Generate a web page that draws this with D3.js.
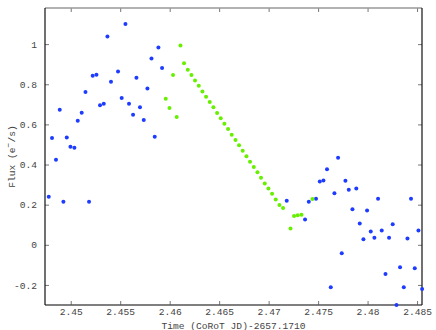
<!DOCTYPE html>
<html lang="en">
<head>
    <meta charset="UTF-8">
    <title>CoRoT light curve</title>
    <script src="https://d3js.org/d3.v7.min.js"></script>
    <style>
        body { margin: 0; background: #fff; }
        .tick text {
            font-family: "Liberation Mono", "DejaVu Sans Mono", monospace;
            font-size: 9.6px;
            fill: #444;
        }
        .tick line { stroke: #777; }
        .label {
            font-family: "Liberation Mono", "DejaVu Sans Mono", monospace;
            font-size: 9.6px;
            fill: #444;
        }
    </style>
</head>
<body>
    <svg id="chart"></svg>

    <script>
        // out-of-transit points (blue)
        const blueTime = [2.44778, 2.44811, 2.44851, 2.44889, 2.44926, 2.44960, 2.44997, 2.45037, 2.45071, 2.45111,
            2.45149, 2.45185, 2.45222, 2.45260, 2.45296, 2.45334, 2.45371, 2.45407, 2.45478, 2.45515,
            2.45553, 2.45589, 2.45630, 2.45664, 2.45700, 2.45738, 2.45775, 2.45816, 2.45849, 2.45886,
            2.45923, 2.47183, 2.47368, 2.47406, 2.47479, 2.47517, 2.47554, 2.47590, 2.47628, 2.47665,
            2.47702, 2.47739, 2.47776, 2.47810, 2.47847, 2.47886, 2.47921, 2.47958, 2.47995, 2.48032,
            2.48069, 2.48106, 2.48143, 2.48181, 2.48217, 2.48254, 2.48292, 2.48328, 2.48366, 2.48403,
            2.48439, 2.48477, 2.48514, 2.48551];
        const blueFlux = [0.239, 0.532, 0.424, 0.673, 0.214, 0.535, 0.488, 0.484, 0.618, 0.658,
            0.761, 0.215, 0.842, 0.847, 0.695, 0.703, 1.038, 0.812, 0.864, 0.731,
            1.100, 0.703, 0.648, 0.832, 0.685, 0.622, 0.779, 0.928, 0.539, 0.983,
            0.881, 0.219, 0.126, 0.214, 0.230, 0.315, 0.320, 0.376, -0.211, 0.257,
            0.434, -0.042, 0.319, 0.274, 0.177, 0.281, 0.106, 0.028, 0.171, 0.066,
            0.035, 0.230, 0.071, -0.146, 0.035, 0.102, -0.300, -0.112, -0.211, 0.032,
            0.230, -0.117, 0.071, -0.220];

        // flagged points (green)
        const greenTime = [2.45960, 2.45998, 2.46034, 2.46071, 2.46109, 2.46145, 2.46183, 2.46220, 2.46256, 2.46294,
            2.46331, 2.46368, 2.46405, 2.46442, 2.46479, 2.46516, 2.46553, 2.46590, 2.46627, 2.46665,
            2.46701, 2.46738, 2.46776, 2.46812, 2.46850, 2.46887, 2.46923, 2.46961, 2.46998, 2.47035,
            2.47072, 2.47109, 2.47146, 2.47221, 2.47257, 2.47294, 2.47332, 2.47443];
        const greenFlux = [0.728, 0.682, 0.846, 0.637, 0.993, 0.905, 0.872, 0.846, 0.819, 0.792,
            0.764, 0.738, 0.711, 0.685, 0.657, 0.631, 0.603, 0.577, 0.549, 0.522,
            0.496, 0.469, 0.441, 0.414, 0.388, 0.361, 0.334, 0.306, 0.280, 0.254,
            0.226, 0.198, 0.183, 0.081, 0.144, 0.147, 0.150, 0.228];

        const xTicks = [2.45, 2.455, 2.46, 2.465, 2.47, 2.475, 2.48, 2.485];
        const yTicks = [-0.2, 0, 0.2, 0.4, 0.6, 0.8, 1];

        const W = 436, H = 330;
        const margin = { top: 8, right: 14, bottom: 25, left: 45 };
        const width = W - margin.left - margin.right;
        const height = H - margin.top - margin.bottom;

        const svg = d3.select("#chart")
            .attr("width", W)
            .attr("height", H);

        const g = svg.append("g")
            .attr("transform", "translate(" + margin.left + "," + margin.top + ")");

        const x = d3.scaleLinear().domain([2.4474, 2.4855]).range([0, width]);
        const y = d3.scaleLinear().domain([-0.3, 1.18]).range([height, 0]);

        // bottom axis, ticks pointing inward
        const xAxis = g.append("g")
            .attr("transform", "translate(0," + height + ")")
            .call(d3.axisBottom(x).tickValues(xTicks).tickSize(-4).tickPadding(3)
                .tickFormat(d => String(+d.toFixed(3))));
        xAxis.select(".domain").remove();

        // top mirror ticks
        const xTop = g.append("g")
            .call(d3.axisTop(x).tickValues(xTicks).tickSize(-4).tickFormat(""));
        xTop.select(".domain").remove();

        // left axis
        const yAxis = g.append("g")
            .call(d3.axisLeft(y).tickValues(yTicks).tickSize(-4).tickPadding(8)
                .tickFormat(d => String(+d.toFixed(1))));
        yAxis.select(".domain").remove();

        // right mirror ticks
        const yRight = g.append("g")
            .attr("transform", "translate(" + width + ",0)")
            .call(d3.axisRight(y).tickValues(yTicks).tickSize(-4).tickFormat(""));
        yRight.select(".domain").remove();

        // frame
        g.append("line").attr("x1", 0).attr("x2", width).attr("y1", 0).attr("y2", 0)
            .attr("stroke", "#999").attr("stroke-width", 1.5);
        g.append("line").attr("x1", 0).attr("x2", width).attr("y1", height).attr("y2", height)
            .attr("stroke", "#555").attr("stroke-width", 1.5);
        g.append("line").attr("x1", 0).attr("x2", 0).attr("y1", 0).attr("y2", height)
            .attr("stroke", "#111").attr("stroke-width", 1.2);
        g.append("line").attr("x1", width).attr("x2", width).attr("y1", 0).attr("y2", height)
            .attr("stroke", "#111").attr("stroke-width", 1.2);

        // points
        g.selectAll(".blue")
            .data(blueTime.map((t, i) => [t, blueFlux[i]]))
            .enter().append("circle")
            .attr("class", "blue")
            .attr("cx", d => x(d[0]))
            .attr("cy", d => y(d[1]))
            .attr("r", 2)
            .attr("fill", "#1e3cff");

        g.selectAll(".green")
            .data(greenTime.map((t, i) => [t, greenFlux[i]]))
            .enter().append("circle")
            .attr("class", "green")
            .attr("cx", d => x(d[0]))
            .attr("cy", d => y(d[1]))
            .attr("r", 2)
            .attr("fill", "#66f000");

        // axis labels
        svg.append("text")
            .attr("class", "label")
            .attr("x", margin.left + width / 2)
            .attr("y", 328.5)
            .attr("text-anchor", "middle")
            .text("Time (CoRoT JD)-2657.1710");

        const yl = svg.append("text")
            .attr("class", "label")
            .attr("text-anchor", "middle")
            .attr("transform", "translate(15," + (margin.top + height / 2) + ") rotate(-90)");
        yl.append("tspan").text("Flux (e");
        yl.append("tspan").attr("dy", -4).attr("font-size", "8px").text("\u2212");
        yl.append("tspan").attr("dy", 4).text("/s)");
    </script>
</body>
</html>
